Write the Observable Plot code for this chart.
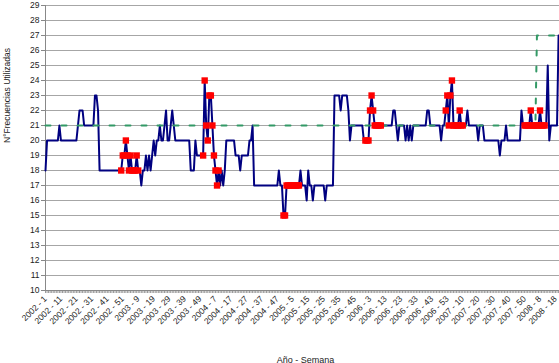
<!DOCTYPE html>
<html>
<head>
<meta charset="utf-8">
<script src="https://cdn.jsdelivr.net/npm/d3@7"></script>
<script src="https://cdn.jsdelivr.net/npm/@observablehq/plot@0.6"></script>
<style>
  html, body { margin: 0; padding: 0; background: #fff; }
  #chart { width: 559px; height: 363px; overflow: hidden; }
</style>
</head>
<body>
<div id="chart"></div>
<script>
// Weekly number of frequencies used (index 0 = 2002 - 1)
const values = [
  18,20,20,20,20,20,20,20,20,21,
  20,20,20,20,20,20,20,20,20,20,
  20,21,22,22,22,21,21,21,21,21,
  21,21,23,23,22,18,18,18,18,18,
  18,18,18,18,18,18,18,18,18,18,
  19,19,20,19,18,19,18,18,18,19,
  18,18,17,18,18,19,18,19,18,19,
  20,19,20,20,21,20,20,21,22,20,
  20,21,22,21,20,20,20,20,20,20,
  20,20,20,20,18,18,18,20,19,19,
  19,19,19,24,21,20,23,23,21,19,
  18,17,18,17,18,17,18,20,20,20,
  20,20,20,19,19,19,18,19,19,19,
  19,19,20,20,21,17,17,17,17,17,
  17,17,17,17,17,17,17,17,17,17,
  17,18,17,17,15,15,17,17,17,17,
  17,17,17,17,17,18,17,17,17,16,
  18,17,17,16,17,17,17,17,17,17,
  17,16,17,17,17,17,17,23,23,23,
  23,22,23,23,23,23,22,20,21,21,
  21,21,21,21,21,21,20,20,20,20,
  22,23,22,21,21,21,21,21,21,21,
  21,21,21,21,21,22,22,21,20,21,
  21,21,21,20,21,20,21,20,21,21,
  21,21,21,21,21,21,21,22,22,21,
  21,21,21,21,21,21,20,21,21,22,
  23,21,23,24,21,21,21,21,22,21,
  21,21,21,22,21,21,21,21,21,21,
  20,21,21,21,20,20,20,20,20,20,
  20,20,20,20,19,20,20,20,21,20,
  20,20,20,20,20,20,20,20,22,21,
  21,21,21,21,22,21,21,21,21,21,
  22,21,21,21,21,25,20,21,21,21,
  21,21,27
];

// Highlighted (red square) weeks and their values
const markerWeeks = [
  49,50,51,52,53,54,55,56,57,58,59,60,
  102,103,104,105,106,107,108,109,110,111,112,
  154,155,156,157,158,159,160,161,162,163,164,
  207,208,209,210,211,212,213,214,215,216,217,
  259,260,261,262,263,264,265,266,267,268,269,270,
  310,311,312,313,314,315,316,317,318,319,320,321,322,323
];
const markerValues = [
  18,19,19,20,19,18,19,18,18,18,19,18,
  19,24,21,20,23,23,21,19,18,17,18,
  15,15,17,17,17,17,17,17,17,17,17,
  20,20,20,22,23,22,21,21,21,21,21,
  22,23,21,23,24,21,21,21,21,22,21,21,
  21,21,21,21,22,21,21,21,21,21,22,21,21,21
];

// Reference (green dashed) level
const targetWeeks = [0, 317, 318, 332];
const targetValues = [21, 21, 27, 27];

// Category tick labels
const labelWeeks = [0,10,20,30,40,50,60,70,80,90,100,110,120,130,140,150,160,170,180,190,200,210,220,230,240,250,260,270,280,290,300,310,320,330];
const weekLabels = ["2002 - 1","2002 - 11","2002 - 21","2002 - 31","2002 - 41","2002 - 51","2003 - 9","2003 - 19","2003 - 29","2003 - 39","2003 - 49","2004 - 7","2004 - 17","2004 - 27","2004 - 37","2004 - 47","2005 - 5","2005 - 15","2005 - 25","2005 - 35","2005 - 45","2006 - 3","2006 - 13","2006 - 23","2006 - 33","2006 - 43","2006 - 53","2007 - 10","2007 - 20","2007 - 30","2007 - 40","2007 - 50","2008 - 8","2008 - 18"];
const yTicks = [10,11,12,13,14,15,16,17,18,19,20,21,22,23,24,25,26,27,28,29];

const yTitle = "N°Frecuencias Utilizadas";
const xTitle = "Año - Semana";

const rows = values.map((v, i) => ({week: i, value: v}));
const allWeeks = rows.map(d => d.week);
const markers = markerWeeks.map((w, i) => ({week: w, value: markerValues[i]}));
const target = targetWeeks.map((w, i) => ({week: w, value: targetValues[i]}));

const chart = Plot.plot({
  width: 559,
  height: 363,
  marginLeft: 45,
  marginRight: 0,
  marginTop: 5,
  marginBottom: 73,
  style: {fontFamily: "'Liberation Sans', Arial, sans-serif", fontSize: "8.5px", background: "#fff", color: "#222"},
  x: {type: "linear", domain: [0, 332.6], axis: null},
  y: {domain: [10, 29], axis: null},
  marks: [
    Plot.gridY(yTicks, {stroke: "#a6a6a6", strokeOpacity: 1, strokeWidth: 1.1}),
    Plot.axisY({ticks: yTicks, tickSize: 4, tickPadding: 2, label: null, stroke: "#888", fill: "#222"}),
    Plot.axisX({ticks: allWeeks, tickSize: 3, tickFormat: () => "", label: null, stroke: "#9a9a9a"}),
    Plot.axisX({ticks: labelWeeks, tickSize: 0, tickPadding: 7, tickRotate: -45, label: null, fill: "#222",
      tickFormat: w => weekLabels[labelWeeks.indexOf(w)]}),
    Plot.ruleX([0], {stroke: "#888"}),
    Plot.ruleY([10], {stroke: "#888"}),
    Plot.line(rows, {x: "week", y: "value", stroke: "#000080", strokeWidth: 2}),
    Plot.line(target, {x: "week", y: "value", stroke: "#339966", strokeWidth: 2, strokeDasharray: "5,11"}),
    Plot.dot(markers, {x: "week", y: "value", symbol: "square", r: 3.6, fill: "#ff0000", stroke: "none"}),
    Plot.text([yTitle], {frameAnchor: "left", dx: -38, dy: -5, rotate: -90, fontSize: 8.5, fill: "#222"}),
    Plot.text([xTitle], {frameAnchor: "bottom", dx: 3, dy: 72, lineAnchor: "bottom", fontSize: 9, fill: "#222"})
  ]
});
document.getElementById("chart").appendChild(chart);
</script>
</body>
</html>
